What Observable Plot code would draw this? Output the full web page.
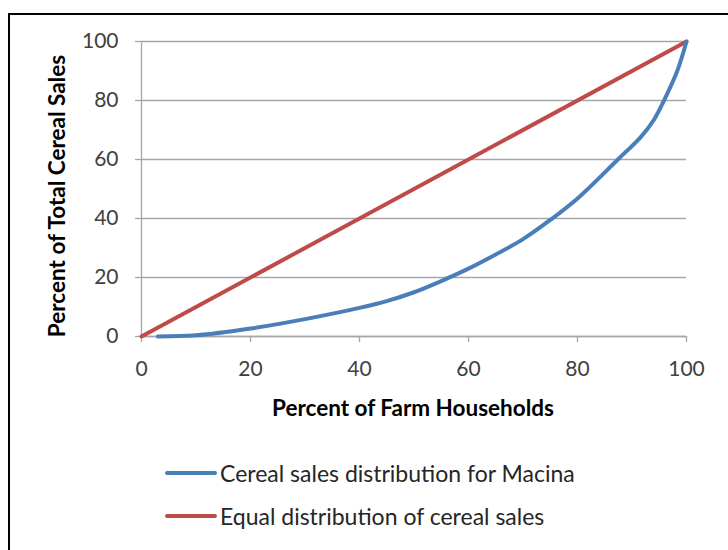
<!DOCTYPE html>
<html>
<head>
<meta charset="utf-8">
<script src="https://cdn.jsdelivr.net/npm/d3@7"></script>
<script src="https://cdn.jsdelivr.net/npm/@observablehq/plot@0.6"></script>
<style>
  html, body { margin: 0; padding: 0; width: 728px; height: 550px; overflow: hidden; background: #fff; }
  #frame { position: absolute; left: 8px; top: 13px; width: 760px; height: 600px; border-left: 2px solid #000; border-top: 2px solid #000; box-sizing: border-box; }
  #chart { position: absolute; left: 0; top: 0; }
  .title { position: absolute; font-family: Lato, sans-serif; font-weight: bold; font-size: 22.5px; line-height: 1; color: #000; white-space: nowrap; }
  #xtitle { left: 413px; top: 397px; transform: translateX(-50%); }
  #ytitle { left: 57px; top: 196px; transform: translate(-50%, -50%) rotate(-90deg); }
  .legend { position: absolute; left: 165px; font-family: Lato, sans-serif; font-size: 23px; line-height: 28px; color: #262626; display: flex; align-items: center; white-space: nowrap; }
  .legend svg { margin-right: 3px; }
</style>
</head>
<body>
<div id="frame"></div>
<div id="chart"></div>
<div class="title" id="xtitle">Percent of Farm Households</div>
<div class="title" id="ytitle">Percent of Total Cereal Sales</div>
<div id="legend"></div>
<script>
// Data
const households = [3, 10, 20, 30, 40, 45, 50, 55, 60, 65, 70, 75, 80, 87.4, 91.6, 94, 96, 98.3, 100];
const cerealSales = [0, 0.4, 2.7, 5.9, 9.7, 12, 15, 18.8, 23, 27.8, 33, 39.5, 46.8, 60, 67.6, 73.4, 80.5, 90, 100];
const equalHouseholds = [0, 100];
const equalSales = [0, 100];
const xTicks = [0, 20, 40, 60, 80, 100];
const yTicks = [0, 20, 40, 60, 80, 100];
const seriesNames = ["Cereal sales distribution for Macina", "Equal distribution of cereal sales"];
const seriesColors = ["#4A7EBB", "#BE4B48"];

const macina = households.map((x, i) => ({x, y: cerealSales[i]}));
const equal = equalHouseholds.map((x, i) => ({x, y: equalSales[i]}));

const chart = Plot.plot({
  width: 728,
  height: 440,
  marginLeft: 141,
  marginRight: 42,
  marginTop: 41,
  marginBottom: 104,
  style: {fontFamily: "Lato, sans-serif", fontSize: "21px", color: "#404040", background: "transparent"},
  x: {domain: [0, 100], ticks: xTicks, tickSize: 6, tickPadding: 19, label: null},
  y: {domain: [0, 100], ticks: yTicks, tickSize: 6, tickPadding: 17, label: null},
  marks: [
    Plot.gridY(yTicks, {stroke: "#a6a6a6", strokeOpacity: 1, strokeWidth: 1.3}),
    Plot.ruleX([0], {stroke: "#a6a6a6", strokeWidth: 1.3}),
    Plot.ruleY([0], {stroke: "#a6a6a6", strokeWidth: 1.3}),
    Plot.axisX({ticks: xTicks, tickSize: 6, tickPadding: 19, stroke: "#a6a6a6", strokeWidth: 1.3, fill: "#404040", label: null}),
    Plot.axisY({ticks: yTicks, tickSize: 6, tickPadding: 17, stroke: "#a6a6a6", strokeWidth: 1.3, fill: "#404040", label: null}),
    Plot.line(equal, {x: "x", y: "y", stroke: seriesColors[1], strokeWidth: 4}),
    Plot.line(macina, {x: "x", y: "y", stroke: seriesColors[0], strokeWidth: 4, curve: "catmull-rom"})
  ]
});
document.getElementById("chart").appendChild(chart);

const legend = document.getElementById("legend");
const legendTops = [459, 502];
seriesNames.forEach((name, i) => {
  const row = document.createElement("div");
  row.className = "legend";
  row.style.top = legendTops[i] + "px";
  row.innerHTML = `<svg width="52" height="8"><line x1="2" y1="4" x2="50" y2="4" stroke="${seriesColors[i]}" stroke-width="4" stroke-linecap="round"/></svg><span>${name}</span>`;
  legend.appendChild(row);
});
</script>
</body>
</html>
